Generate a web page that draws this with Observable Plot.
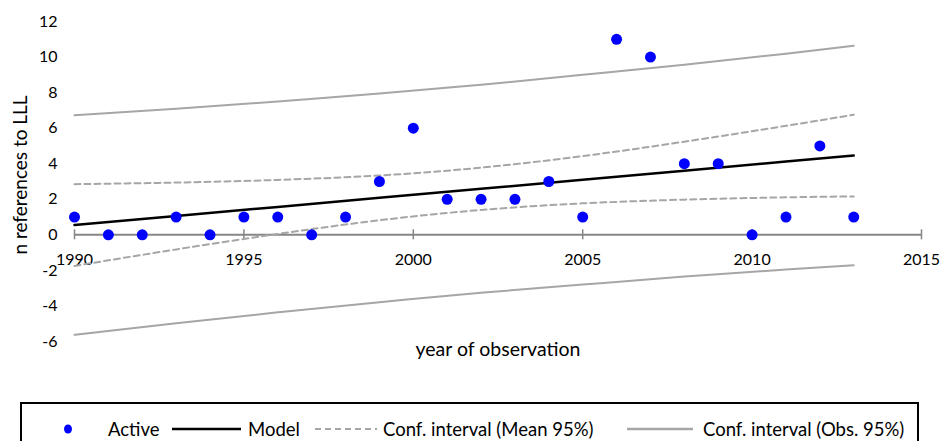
<!DOCTYPE html>
<html>
<head>
<meta charset="utf-8">
<script src="https://cdn.jsdelivr.net/npm/d3@7"></script>
<script src="https://cdn.jsdelivr.net/npm/@observablehq/plot@0.6"></script>
<style>
  html, body { margin: 0; padding: 0; background: #fff; }
  body { width: 941px; height: 441px; position: relative; overflow: hidden; font-family: Lato, "Open Sans", sans-serif; }
  #chart { position: absolute; left: 0; top: 0; }
  #legend { position: absolute; left: 20px; top: 402px; width: 899px; height: 64px; border: 2px solid #000; box-sizing: border-box; }
  .lg { position: absolute; top: 25px; transform: translateY(-50%); font-size: 18.5px; color: #000; white-space: nowrap; line-height: 1; }
  .sw { position: absolute; }
</style>
</head>
<body>
<div id="chart"></div>
<div id="legend"></div>
<script>
// Observed points
const years = [1990,1991,1992,1993,1994,1995,1996,1997,1998,1999,2000,2001,2002,2003,2004,2005,2006,2007,2008,2009,2010,2011,2012,2013];
const active = [1,0,0,1,0,1,1,0,1,3,6,2,2,2,3,1,11,10,4,4,0,1,5,1];

// Model and confidence bands
const lineYears = [1990,1993,1996,1999,2002,2005,2008,2011,2013];
const model     = [0.55,1.06,1.57,2.08,2.59,3.10,3.61,4.12,4.46];
const meanUpper = [2.85,2.94,3.09,3.34,3.78,4.43,5.24,6.13,6.76];
const meanLower = [-1.75,-0.82,0.05,0.82,1.40,1.77,1.98,2.11,2.16];
const obsUpper  = [6.72,7.09,7.50,7.95,8.44,9.00,9.57,10.19,10.63];
const obsLower  = [-5.62,-4.97,-4.36,-3.79,-3.26,-2.80,-2.35,-1.95,-1.71];

// Ticks & labels
const xTicks = [1990,1995,2000,2005,2010,2015];
const yTicks = [-6,-4,-2,0,2,4,6,8,10,12];
const xTitle = "year of observation";
const yTitle = "n references to LLL";
const legendLabels = ["Active","Model","Conf. interval (Mean 95%)","Conf. interval (Obs. 95%)"];

const pts = years.map((x,i) => ({x, y: active[i]}));
const band = (arr) => lineYears.map((x,i) => ({x, y: arr[i]}));

const GRAY = "#a6a6a6";
const font = "Lato, 'Open Sans', sans-serif";

const chart = Plot.plot({
  width: 941,
  height: 375,
  marginTop: 21,
  marginBottom: 34,
  marginLeft: 74,
  marginRight: 20,
  style: {fontFamily: font, fontSize: "16px", color: "#000", background: "transparent"},
  x: {domain: [xTicks[0], xTicks[xTicks.length-1]], axis: null},
  y: {domain: [yTicks[0], yTicks[yTicks.length-1]], ticks: yTicks, tickFormat: d => String(d), tickSize: 0, tickPadding: 17, label: null},
  marks: [
    Plot.ruleY([0], {x1: xTicks[0], x2: xTicks[xTicks.length-1], stroke: "#868686", strokeWidth: 2}),
    Plot.ruleX(xTicks, {x: d => d, y1: 0, y2: 0, insetTop: -5, insetBottom: -5, stroke: "#868686", strokeWidth: 1.5}),
    Plot.text(xTicks, {x: d => d, y: 0, dy: 25, text: d => String(d), fontSize: 16, fill: "#000"}),
    Plot.line(band(obsUpper), {x: "x", y: "y", stroke: GRAY, strokeWidth: 2, curve: "natural"}),
    Plot.line(band(obsLower), {x: "x", y: "y", stroke: GRAY, strokeWidth: 2, curve: "natural"}),
    Plot.line(band(meanUpper), {x: "x", y: "y", stroke: GRAY, strokeWidth: 2, strokeDasharray: "6,4", curve: "natural"}),
    Plot.line(band(meanLower), {x: "x", y: "y", stroke: GRAY, strokeWidth: 2, strokeDasharray: "6,4", curve: "natural"}),
    Plot.line(band(model), {x: "x", y: "y", stroke: "#000", strokeWidth: 2.5}),
    Plot.dot(pts, {x: "x", y: "y", r: 5.5, fill: "#0000ff", stroke: null}),
    Plot.text([yTitle], {frameAnchor: "left", textAnchor: "middle", rotate: -90, dx: -54, dy: -6.5, fontSize: 19, fill: "#000"}),
    Plot.text([xTitle], {frameAnchor: "bottom", dy: 14, fontSize: 19.5, fill: "#000"})
  ]
});
document.getElementById("chart").appendChild(chart);

// Legend (HTML, below the SVG)
const lg = document.getElementById("legend");
const L0 = 22; // legend content-box left in page coords (left + border)
const CY = 25; // vertical centre inside legend box
function addText(label, left) {
  const s = document.createElement("span");
  s.className = "lg"; s.textContent = label; s.style.left = (left - L0) + "px";
  lg.appendChild(s);
}
function addLine(x1, x2, color, width, dash) {
  const svg = document.createElementNS("http://www.w3.org/2000/svg", "svg");
  svg.setAttribute("class", "sw");
  svg.setAttribute("width", x2 - x1); svg.setAttribute("height", 10);
  svg.style.left = (x1 - L0) + "px"; svg.style.top = (CY - 5) + "px";
  const l = document.createElementNS("http://www.w3.org/2000/svg", "line");
  l.setAttribute("x1", 0); l.setAttribute("x2", x2 - x1); l.setAttribute("y1", 5); l.setAttribute("y2", 5);
  l.setAttribute("stroke", color); l.setAttribute("stroke-width", width);
  if (dash) l.setAttribute("stroke-dasharray", dash);
  svg.appendChild(l); lg.appendChild(svg);
}
{
  const svg = document.createElementNS("http://www.w3.org/2000/svg", "svg");
  svg.setAttribute("class", "sw"); svg.setAttribute("width", 10); svg.setAttribute("height", 10);
  svg.style.left = (68 - 5 - L0) + "px"; svg.style.top = (CY - 5) + "px";
  const c = document.createElementNS("http://www.w3.org/2000/svg", "ellipse");
  c.setAttribute("cx", 5); c.setAttribute("cy", 5); c.setAttribute("rx", 4); c.setAttribute("ry", 4.5); c.setAttribute("fill", "#0000ff");
  svg.appendChild(c); lg.appendChild(svg);
}
addText(legendLabels[0], 108);
addLine(172, 241, "#000", 2.5);
addText(legendLabels[1], 248);
addLine(315, 377, GRAY, 2, "6,4");
addText(legendLabels[2], 383);
addLine(627, 693, GRAY, 2.5);
addText(legendLabels[3], 703);
</script>
</body>
</html>
